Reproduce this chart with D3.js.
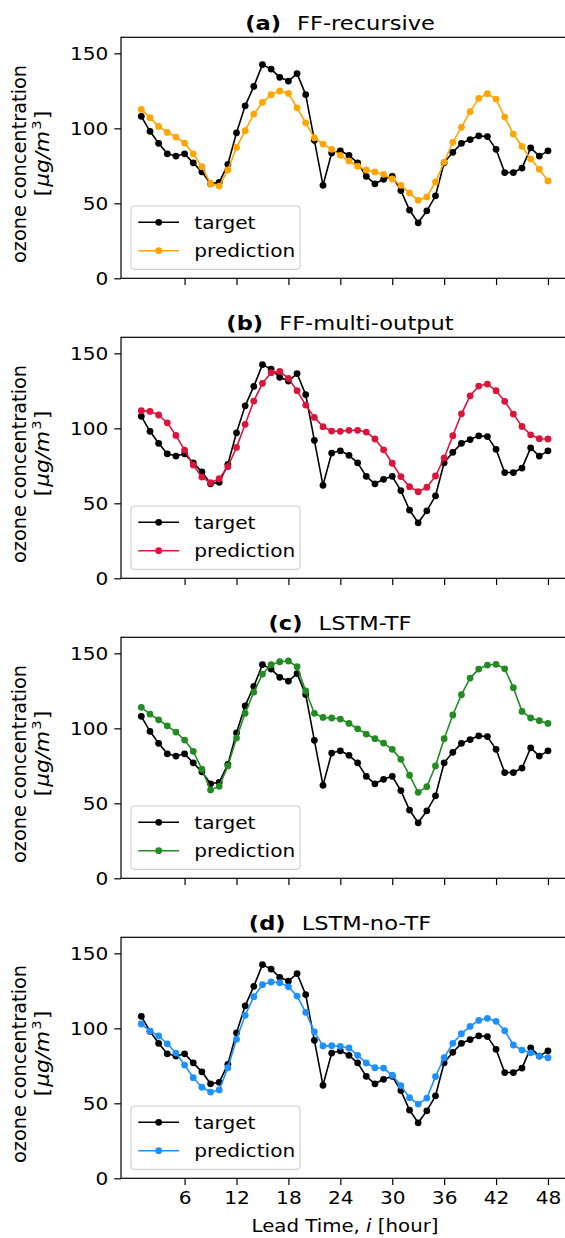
<!DOCTYPE html>
<html><head><meta charset="utf-8">
<script src="https://cdn.jsdelivr.net/npm/d3@7"></script>
<style>
html,body{margin:0;padding:0;background:#fff;}
svg{display:block;font-family:"DejaVu Sans",sans-serif;}
</style></head>
<body>
<script>
const hours = d3.range(1, 49);
const target = [108,98,90,83,81.5,83,77,71,63,64,76,97,115,128,142.5,139.5,134,131.5,136.5,122.5,92,62,83.5,85,82,77,68,63,66,68,58.5,45.5,37,45,55,77,84,90,92.5,95,94.5,86,70.5,70.5,73.5,87,81.5,85];
const predFFRecursive = [112.6,107.1,101.3,97.3,94.2,90.2,83,74.4,63.1,61.5,72.2,87.3,98.4,109.5,117.3,122.4,124.9,123.3,113.7,103.7,93.7,89.5,86,82,78.2,74.7,72.2,70.9,69.3,66.2,62,56.9,52,54.2,64.2,77.5,90.7,100.7,111.1,120,123.1,119.5,107.5,96.2,88,79.5,72.7,64.9];
const predFFMulti = [111.8,111.3,108.9,103.7,95.3,85.5,75.5,67.5,63.7,66.4,74.4,87.3,102.7,118.2,130,137.1,138,133.3,125.1,115.5,107.3,101.1,98.2,98,98.7,98.7,97.5,92.9,85.7,76.7,67.8,61.1,57.7,60.7,68.2,80.2,95.1,109.7,121.7,128.2,129.5,125.1,118,109.5,101.3,95.7,93.1,92.9];
const predLSTMTF = [114,109.5,105.7,101.7,97.5,92.2,84.7,72.7,58.9,61.3,74.9,93.5,110,124.2,136.2,142.4,144.4,144.9,141.1,124.9,110,107.3,106.9,106.2,103.3,99.7,96.2,93.1,90.2,86,79.3,68.7,57.3,61.1,74.9,93.1,108.9,122.4,133.5,139.5,142.2,142.7,139.7,127.1,111.3,106.9,105.1,103.3];
const predLSTMnoTF = [102.9,98.2,94.9,89.7,83.5,75.5,67.1,60.7,57.5,58.9,73.7,92.7,108.7,121.1,129.1,130.9,130.4,127.7,121.5,110.7,97.7,88.3,88.4,88,86.9,82,76.9,73.7,73.5,68.7,61.8,53.7,49.5,53.5,67.8,80.4,90,96.4,101.3,105.3,106.7,104.7,98.4,88.9,85.5,83.7,81.5,80.4];
const panelLetters = ["(a)","(b)","(c)","(d)"];
const panelNames = ["FF-recursive","FF-multi-output","LSTM-TF","LSTM-no-TF"];
const panelSeries = [predFFRecursive, predFFMulti, predLSTMTF, predLSTMnoTF];
const panelColors = ["#FFA500","#DC143C","#228B22","#1E90FF"];
const yTicks = [0,50,100,150];
const xTicks = [6,12,18,24,30,36,42,48];
const legendLabels = ["target","prediction"];

const W = 565, H = 1238;
const svg = d3.select("body").append("svg").attr("width", W).attr("height", H);
const L = 121, R = 568.3, FS = 18.3, SX = 1.1;
const x = d3.scaleLinear().domain([-1.35, 50.35]).range([L, R]);

function stretchedText(parent, px, py, sx, size, anchor) {
  return parent.append("text")
    .attr("transform", `translate(${px},${py}) scale(${sx},1)`)
    .attr("text-anchor", anchor).attr("font-size", size).attr("fill", "#000");
}

panelSeries.forEach((pred, k) => {
  const top = 37.3 + 300*k, bot = 278.3 + 300*k;
  const y = d3.scaleLinear().domain([0, 160.7]).range([bot, top]);
  const g = svg.append("g");
  // axes
  const ya = g.append("g").attr("transform", `translate(${L},0)`)
    .call(d3.axisLeft(y).tickValues(yTicks).tickSize(6.7).tickPadding(6).tickSizeOuter(0));
  ya.select(".domain").remove();
  ya.selectAll("line").attr("stroke","#000").attr("stroke-width",1.2);
  ya.selectAll("text").attr("font-size",FS).attr("font-family","DejaVu Sans").attr("fill","#000")
    .attr("x", -12.7/SX).attr("transform", `scale(${SX},1)`);
  const xa = g.append("g").attr("transform", `translate(0,${bot})`)
    .call(d3.axisBottom(x).tickValues(xTicks).tickSize(6.7).tickPadding(6).tickSizeOuter(0)
      .tickFormat(k===3 ? d3.format("d") : ""));
  xa.select(".domain").remove();
  xa.selectAll("line").attr("stroke","#000").attr("stroke-width",1.2);
  xa.selectAll("text").attr("font-size",FS).attr("font-family","DejaVu Sans").attr("fill","#000")
    .attr("transform", `scale(${SX},1)`);
  // lines
  const line = d3.line().x((d,i)=>x(hours[i])).y(d=>y(d));
  const drawSeries = (data, color) => {
    g.append("path").datum(data).attr("d", line).attr("fill","none")
      .attr("stroke", color).attr("stroke-width",1.6).attr("stroke-linejoin","round");
    g.selectAll(null).data(data).enter().append("circle")
      .attr("cx",(d,i)=>x(hours[i])).attr("cy",d=>y(d)).attr("r",3.4).attr("fill",color);
  };
  drawSeries(target, "#000");
  drawSeries(pred, panelColors[k]);
  // spines
  g.append("rect").attr("x",L).attr("y",top).attr("width",R-L).attr("height",bot-top)
    .attr("fill","none").attr("stroke","#000").attr("stroke-width",1.2);
  // title
  const t = stretchedText(g, 340, 29.5+300*k, 1.15, 19.6, "middle");
  t.append("tspan").attr("font-weight","bold").text(panelLetters[k]);
  t.append("tspan").attr("dx",14).text(panelNames[k]);
  // y label
  g.append("text").attr("transform",`translate(26,${164+300*k}) rotate(-90) scale(1.03,1)`).attr("text-anchor","middle")
    .attr("font-size",18.8).attr("fill","#000").text("ozone concentration");
  const yl = g.append("text").attr("transform",`translate(48.5,${153.5+300*k}) rotate(-90) scale(1.15,1)`).attr("text-anchor","middle")
    .attr("font-size",18.8).attr("fill","#000");
  yl.append("tspan").text("[");
  yl.append("tspan").attr("font-style","italic").attr("dx",1).text("μg/m");
  yl.append("tspan").attr("font-size",13).attr("dy",-7.5).attr("dx",1).text("3");
  yl.append("tspan").attr("dy",7.5).attr("dx",1).text("]");
  // legend
  const lg = g.append("g");
  lg.append("rect").attr("x",131).attr("y",206+300*k).attr("width",169).attr("height",63.3)
    .attr("rx",3.5).attr("fill","#fff").attr("fill-opacity",0.8).attr("stroke","#d0d0d0").attr("stroke-width",1.2);
  [["#000",legendLabels[0]],[panelColors[k],legendLabels[1]]].forEach(([c,lab],j)=>{
    const ry = 222.3 + 28.4*j + 300*k;
    lg.append("line").attr("x1",138.3).attr("x2",179).attr("y1",ry).attr("y2",ry).attr("stroke",c).attr("stroke-width",1.6);
    lg.append("circle").attr("cx",158.7).attr("cy",ry).attr("r",3.4).attr("fill",c);
    stretchedText(lg, 194.3, ry+6.6, SX, FS, "start").text(lab);
  });
});
// x label
const xl = stretchedText(svg, 345, 1231.5, 1.08, FS, "middle");
xl.append("tspan").text("Lead Time, ");
xl.append("tspan").attr("font-style","italic").text("i");
xl.append("tspan").text(" [hour]");
</script>
</body></html>
